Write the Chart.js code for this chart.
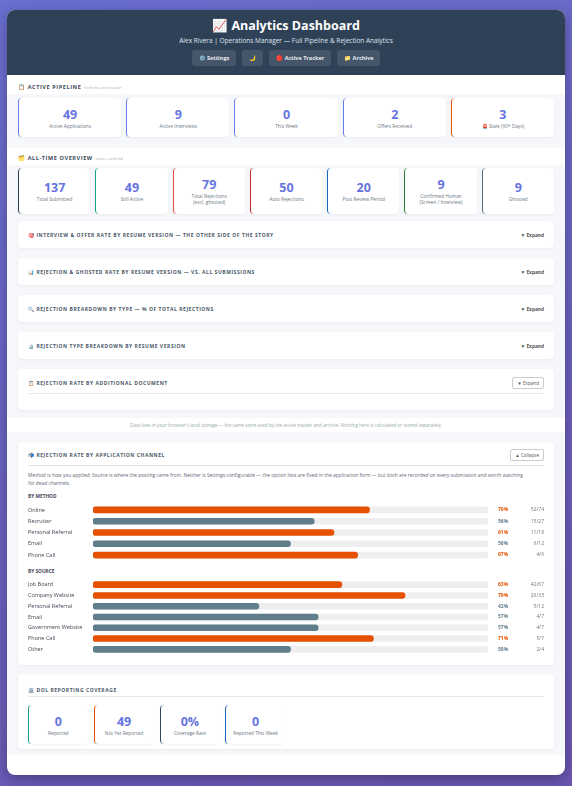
<!DOCTYPE html>
<html><head><meta charset="utf-8">
<script src="https://cdn.jsdelivr.net/npm/chart.js@4"></script>
<style>
*{box-sizing:border-box;margin:0;padding:0}
body{width:572px;height:786px;overflow:hidden;background:linear-gradient(160deg,#6a6fd0,#6a55b0);font-family:"Open Sans","Noto Sans",sans-serif;color:#2c3e50}
.wrap{position:absolute;left:7px;top:10px;width:558px;height:765px;background:#fff;border-radius:8px;overflow:hidden;box-shadow:0 4px 14px rgba(0,0,0,.3)}
.hdr{height:65px;background:#2f4156;text-align:center;color:#fff;padding-top:8px}
.hdr h1{font-size:12.5px;font-weight:700;line-height:16px}
.hdr .sub{font-size:6.5px;color:#dfe6ee;margin-top:2px}
.btns{margin-top:5px;display:flex;justify-content:center;gap:6px}
.btns span{background:#46566a;border-radius:3px;font-size:5.5px;font-weight:700;padding:4px 7px;color:#e8edf2}
.lbl{font-size:5.5px;font-weight:700;letter-spacing:.6px;color:#3b4a5a;padding:0 11px;height:14px;line-height:14px}
.lbl small{font-size:3.5px;color:#aaa;font-weight:400;letter-spacing:0;margin-left:3px}
.band{background:#f5f7fa;padding:6px 11px}
.cards{display:flex;gap:5px}
.card{flex:1;background:#fff;border-radius:4px;border-left:1.5px solid #667eea;text-align:center;box-shadow:0 1px 2px rgba(0,0,0,.05)}
.card b{display:block;font-size:12.5px;color:#6674e0;font-weight:700;line-height:16px}
.card i{display:block;font-style:normal;font-size:4.8px;color:#6b7785;line-height:6px}
.sec{background:#fff;border-radius:4px;margin-bottom:10px;box-shadow:0 1px 3px rgba(0,0,0,.05);height:27px;display:flex;align-items:center;justify-content:space-between;padding:0 10px}
.t{font-size:5px;font-weight:700;letter-spacing:.55px;color:#4a5868}
.sec .e{font-size:4.8px;color:#555;font-weight:700}
.foot{text-align:center;font-size:4.6px;color:#9aa;height:14px;line-height:14px}
.big{background:#fff;border-radius:4px;box-shadow:0 1px 3px rgba(0,0,0,.05);padding:0 10px}
.desc{font-size:4.9px;color:#667;line-height:8px;margin-top:5px}
.sh{font-size:4.8px;font-weight:700;color:#445;margin-top:6px;height:8px}
.bb{border:1px solid #ccc;border-radius:2px;font-size:4.6px;padding:2px 4px;color:#555;background:#fff}
</style></head><body>
<div class="wrap">
 <div class="hdr"><h1>📈 Analytics Dashboard</h1>
  <div class="sub">Alex Rivera | Operations Manager — Full Pipeline &amp; Rejection Analytics</div>
  <div class="btns"><span>⚙️ Settings</span><span>🌙</span><span>🔴 Active Tracker</span><span>📁 Archive</span></div></div>
 <div class="lbl" style="margin-top:5px">📋 ACTIVE PIPELINE<small>from the active tracker</small></div>
 <div class="band" style="height:54px;padding-top:4px"><div class="cards" id="pipe" style="height:39px"></div></div>
 <div class="lbl" style="margin-top:3px">🗂️ ALL-TIME OVERVIEW<small>active + archived</small></div>
 <div class="band" style="padding-top:3px;padding-bottom:8px">
  <div class="cards" id="over" style="height:46px"></div>
  <div style="height:7px"></div>
  <div class="sec"><span class="t">🎯 INTERVIEW &amp; OFFER RATE BY RESUME VERSION — THE OTHER SIDE OF THE STORY</span><span class="e">▼ Expand</span></div>
  <div class="sec"><span class="t">📊 REJECTION &amp; GHOSTED RATE BY RESUME VERSION — VS. ALL SUBMISSIONS</span><span class="e">▼ Expand</span></div>
  <div class="sec"><span class="t">🔍 REJECTION BREAKDOWN BY TYPE — % OF TOTAL REJECTIONS</span><span class="e">▼ Expand</span></div>
  <div class="sec"><span class="t">🔬 REJECTION TYPE BREAKDOWN BY RESUME VERSION</span><span class="e">▼ Expand</span></div>
  <div class="sec" style="height:41px;display:block;padding-top:8px;margin-bottom:0"><div style="display:flex;justify-content:space-between;align-items:center;border-bottom:1px solid #e6e6e6;padding-bottom:4px"><span class="t">📋 REJECTION RATE BY ADDITIONAL DOCUMENT</span><span class="bb">▼ Expand</span></div></div>
 </div>
 <div class="foot">Data lives in your browser's local storage — the same store used by the active tracker and archive. Nothing here is calculated or stored separately.</div>
 <div class="band" style="padding-top:10px">
  <div class="big" style="height:223px">
   <div style="display:flex;justify-content:space-between;align-items:center;border-bottom:1px solid #e3e3e3;height:24px;padding-top:2px"><span class="t">📬 REJECTION RATE BY APPLICATION CHANNEL</span><span class="bb">▲ Collapse</span></div>
   <div class="desc" style="padding-right:14px">Method is how you applied; Source is where the posting came from. Neither is Settings-configurable — the option lists are fixed in the application form — but both are recorded on every submission and worth watching for dead channels.</div>
   <div class="sh">BY METHOD</div>
   <div style="height:63px;position:relative"><canvas id="cm"></canvas></div>
   <div class="sh" style="margin-top:4px">BY SOURCE</div>
   <div style="height:82px;position:relative"><canvas id="cs"></canvas></div>
  </div>
  <div class="big" style="height:75px;margin-top:9px;padding-top:6px">
   <div style="border-bottom:1px solid #e6e6e6;height:17px;line-height:12px"><span class="t">🏛️ DOL REPORTING COVERAGE</span></div>
   <div class="cards" id="dol" style="height:39px;width:257px;margin-top:8px;gap:6px"></div>
  </div>
 </div>
</div>
<script>
const pipeVals=["49","9","0","2","3"];
const pipeLabels=["Active Applications","Active Interviews","This Week","Offers Received","🚨 Stale (90+ Days)"];
const pipeColors=["#667eea","#667eea","#667eea","#667eea","#e65100"];
const overVals=["137","49","79","50","20","9","9"];
const overLabels=["Total Submitted","Still Active","Total Rejections<br>(excl. ghosted)","Auto Rejections","Post Review Period","Confirmed Human<br>(Screen / Interview)","Ghosted"];
const overColors=["#2c3e50","#16a085","#e74c3c","#c62828","#1565c0","#2e7d32","#546e7a"];
const dolVals=["0","49","0%","0"];
const dolLabels=["Reported","Not Yet Reported","Coverage Rate","Reported This Week"];
const dolColors=["#16a085","#e65100","#34495e","#1565c0"];
function cards(id,v,l,c){document.getElementById(id).innerHTML=v.map((x,i)=>`<div class="card" style="border-left-color:${c[i]};display:flex;flex-direction:column;justify-content:center"><b>${x}</b><i>${l[i]}</i></div>`).join("");}
cards("pipe",pipeVals,pipeLabels,pipeColors);cards("over",overVals,overLabels,overColors);cards("dol",dolVals,dolLabels,dolColors);

const methodLabels=["Online","Recruiter","Personal Referral","Email","Phone Call"];
const methodRates=[70,56,61,50,67];
const methodCounts=["52/74","15/27","11/18","6/12","4/6"];
const sourceLabels=["Job Board","Company Website","Personal Referral","Email","Government Website","Phone Call","Other"];
const sourceRates=[63,79,42,57,57,71,50];
const sourceCounts=["42/67","26/33","5/12","4/7","4/7","5/7","2/4"];
const ORANGE="#e65100",SLATE="#607d8b";
function bars(id,labels,rates,counts){
 const cols=rates.map(r=>r>=60?ORANGE:SLATE);
 new Chart(document.getElementById(id),{type:"bar",
  data:{labels,datasets:[
   {data:rates,backgroundColor:cols,borderRadius:3,borderSkipped:false,barThickness:6,grouped:false,order:1},
   {data:labels.map(()=>100),backgroundColor:"#eeeeee",borderRadius:2,borderSkipped:false,barThickness:6,grouped:false,order:2}]},
  options:{indexAxis:"y",responsive:true,maintainAspectRatio:false,animation:false,
   layout:{padding:{right:56,top:0,bottom:0}},
   plugins:{legend:{display:false},tooltip:{enabled:false}},
   scales:{x:{display:false,min:0,max:100},
    y:{grid:{display:false},border:{display:false},afterFit:function(s){s.width=65;},
     ticks:{font:{family:"Open Sans",size:5.5},color:"#445",crossAlign:"far",padding:0}}}},
  plugins:[{id:"r",afterDatasetsDraw(ch){const c=ch.ctx,m=ch.getDatasetMeta(0),w=ch.width;
   m.data.forEach((b,i)=>{c.save();c.font="bold 5px Open Sans";c.textBaseline="middle";c.fillStyle=cols[i];c.textAlign="left";c.fillText(rates[i]+"%",w-46,b.y);
    c.font="5px Open Sans";c.fillStyle="#777";c.textAlign="right";c.fillText(counts[i],w,b.y);c.restore();});}}]});
}
bars("cm",methodLabels,methodRates,methodCounts);
bars("cs",sourceLabels,sourceRates,sourceCounts);
</script></body></html>
